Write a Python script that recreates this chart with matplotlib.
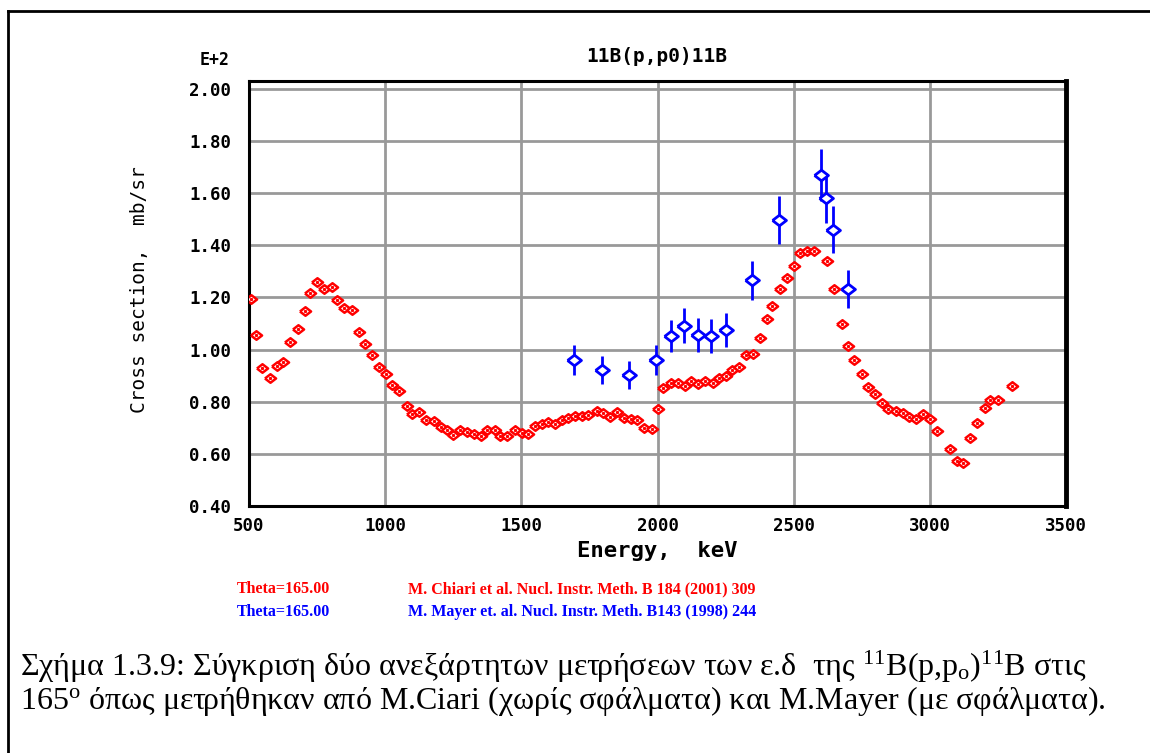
import matplotlib
matplotlib.use("Agg")
import matplotlib.pyplot as plt
from matplotlib.lines import Line2D

W, H = 1150, 753

# Chiari et al. (red, no error bars)
chiari_energy = [
    506, 526, 549, 577, 601, 626, 650, 679, 706, 725, 751, 777, 806, 823, 850, 879,
    904, 926, 951, 978, 1002, 1025, 1052, 1079, 1100, 1125, 1150, 1180, 1204, 1228,
    1250, 1275, 1302, 1326, 1351, 1375, 1404, 1422, 1448, 1477, 1501, 1526, 1550,
    1575, 1599, 1624, 1648, 1672, 1697, 1721, 1746, 1777, 1801, 1826, 1851, 1877,
    1901, 1926, 1951, 1979, 2003, 2022, 2049, 2076, 2101, 2122, 2150, 2175, 2202,
    2226, 2251, 2275, 2299, 2325, 2352, 2376, 2401, 2422, 2448, 2475, 2501, 2523,
    2548, 2576, 2622, 2648, 2677, 2701, 2723, 2750, 2774, 2799, 2824, 2848, 2876,
    2902, 2925, 2949, 2974, 3001, 3025, 3075, 3099, 3123, 3148, 3174, 3201, 3220,
    3249, 3300,
]
chiari_xs = [
    1.195, 1.056, 0.929, 0.892, 0.937, 0.953, 1.028, 1.078, 1.148, 1.217, 1.259, 1.231,
    1.241, 1.190, 1.158, 1.152, 1.069, 1.023, 0.979, 0.933, 0.905, 0.864, 0.841, 0.784,
    0.752, 0.762, 0.729, 0.726, 0.703, 0.691, 0.672, 0.691, 0.684, 0.675, 0.668, 0.691,
    0.690, 0.668, 0.668, 0.692, 0.681, 0.677, 0.707, 0.716, 0.724, 0.716, 0.729, 0.739,
    0.745, 0.745, 0.749, 0.764, 0.758, 0.741, 0.762, 0.739, 0.733, 0.729, 0.698, 0.694,
    0.773, 0.852, 0.873, 0.873, 0.860, 0.879, 0.869, 0.879, 0.873, 0.892, 0.899, 0.921,
    0.933, 0.978, 0.982, 1.046, 1.116, 1.167, 1.233, 1.276, 1.321, 1.372, 1.378, 1.378,
    1.340, 1.233, 1.097, 1.014, 0.959, 0.908, 0.856, 0.828, 0.796, 0.773, 0.763, 0.758,
    0.743, 0.735, 0.752, 0.732, 0.686, 0.617, 0.573, 0.566, 0.660, 0.717, 0.777, 0.805,
    0.805, 0.860,
]

# Mayer et al. (blue, with error bars)
mayer_energy = [1694, 1795, 1896, 1994, 2049, 2096, 2149, 2197, 2250, 2346, 2446, 2599, 2619, 2645, 2698]
mayer_xs = [0.959, 0.921, 0.903, 0.959, 1.052, 1.091, 1.056, 1.052, 1.075, 1.266, 1.497, 1.670, 1.581, 1.460, 1.233]
mayer_err = [0.058, 0.054, 0.055, 0.058, 0.063, 0.067, 0.064, 0.064, 0.065, 0.075, 0.093, 0.100, 0.096, 0.090, 0.074]

x_ticks = [500, 1000, 1500, 2000, 2500, 3000, 3500]
y_ticks = [0.40, 0.60, 0.80, 1.00, 1.20, 1.40, 1.60, 1.80, 2.00]

MONO = "DejaVu Sans Mono"
SERIF = "Liberation Serif"
RED = "#ff0000"
BLUE = "#0000ff"
GRID = "#999999"

plt.rcParams["mathtext.default"] = "regular"


def fx(x):
    return x / W


def fy(y):
    return 1 - y / H


fig = plt.figure(figsize=(W / 100, H / 100), dpi=100)
fig.patch.set_facecolor("white")

# frame around the figure + caption
fig.add_artist(Line2D([fx(8), fx(1150)], [fy(11), fy(11)], color="black", linewidth=2))
fig.add_artist(Line2D([fx(8), fx(8)], [fy(11), fy(753)], color="black", linewidth=2))

ax = fig.add_axes([fx(249), fy(506), fx(1066) - fx(249), fy(81) - fy(506)])
ax.set_xlim(500, 3500)
ax.set_ylim(0.40, 2.03)
ax.set_xticks(x_ticks)
ax.set_yticks(y_ticks)
ax.set_xticklabels([str(t) for t in x_ticks])
ax.set_yticklabels([f"{t:.2f}" for t in y_ticks])
ax.tick_params(length=0, labelsize=12.5)
ax.tick_params(axis="y", pad=13)
ax.tick_params(axis="x", pad=8)
for lab in ax.get_xticklabels() + ax.get_yticklabels():
    lab.set_fontfamily(MONO)
    lab.set_fontweight("bold")
ax.grid(True, color=GRID, linewidth=2)
ax.set_axisbelow(True)
for side in ["left", "right", "top", "bottom"]:
    ax.spines[side].set_linewidth(2.2)
    ax.spines[side].set_color("black")
ax.spines["right"].set_linewidth(3.5)

flat_diamond = [(-1.3, 0), (0, 1), (1.3, 0), (0, -1), (-1.3, 0)]

ax.plot(chiari_energy, chiari_xs, linestyle="none", marker=flat_diamond, markersize=8,
        markerfacecolor="white", markeredgecolor=RED, markeredgewidth=1.8, zorder=3)
ax.plot(chiari_energy, chiari_xs, linestyle="none", marker="s", markersize=1.2,
        markerfacecolor=RED, markeredgecolor=RED, zorder=4)

ax.errorbar(mayer_energy, mayer_xs, yerr=mayer_err, linestyle="none", ecolor=BLUE,
            elinewidth=2, capsize=0, marker=flat_diamond, markersize=10,
            markerfacecolor="white", markeredgecolor=BLUE, markeredgewidth=2, zorder=5)

ax.set_xlabel("Energy,  keV", fontfamily=MONO, fontweight="bold", fontsize=16)
ax.xaxis.set_label_coords(0.5, (506 - 551) / 425, transform=ax.transAxes)
ax.xaxis.label.set_va("center")
ax.set_ylabel("Cross section,  mb/sr", fontfamily=MONO, fontsize=14)
ax.yaxis.set_label_coords((140 - 249) / 817, (506 - 290) / 425, transform=ax.transAxes)
ax.yaxis.label.set_va("center")
fig.text(fx(657), fy(57), "11B(p,p0)11B", fontfamily=MONO, fontweight="bold",
         fontsize=14, ha="center", va="center")
fig.text(fx(215), fy(60), "E+2", fontfamily=MONO, fontweight="bold", fontsize=12,
         ha="center", va="center")

# legend lines
fig.text(fx(237), fy(589), "Theta=165.00", fontfamily=SERIF, fontweight="bold",
         fontsize=11.5, color=RED, va="center")
fig.text(fx(408), fy(589), "M. Chiari et al. Nucl. Instr. Meth. B 184 (2001) 309",
         fontfamily=SERIF, fontweight="bold", fontsize=11.5, color=RED, va="center")
fig.text(fx(237), fy(612), "Theta=165.00", fontfamily=SERIF, fontweight="bold",
         fontsize=11.5, color=BLUE, va="center")
fig.text(fx(408), fy(612), "M. Mayer et. al. Nucl. Instr. Meth. B143 (1998) 244",
         fontfamily=SERIF, fontweight="bold", fontsize=11.5, color=BLUE, va="center")

# caption
fig.text(fx(20), fy(667),
         r"Σχήμα 1.3.9: Σύγκριση δύο ανεξάρτητων μετρήσεων των ε.δ  της $^{11}$B(p,p$_{o}$)$^{11}$B στις",
         fontfamily=SERIF, fontsize=23, va="center")
fig.text(fx(20), fy(701),
         r"165$^{o}$ όπως μετρήθηκαν από M.Ciari (χωρίς σφάλματα) και M.Mayer (με σφάλματα).",
         fontfamily=SERIF, fontsize=23, va="center")

fig.savefig("out.png", dpi=100)
